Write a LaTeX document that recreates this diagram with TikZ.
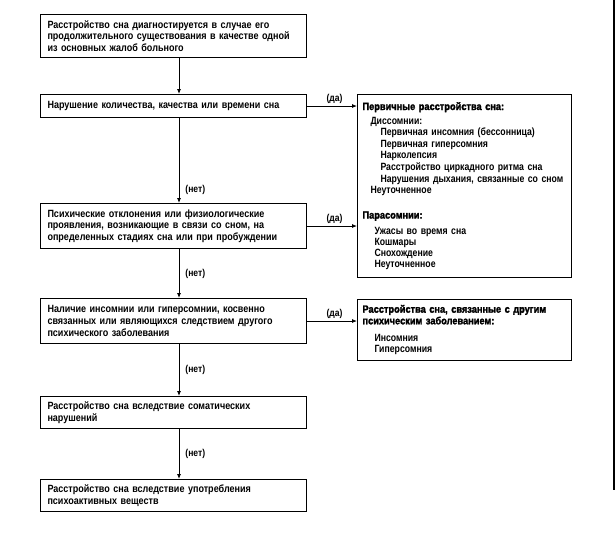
\documentclass[tikz,border=0pt]{standalone}
\usepackage{fontspec}
\setmainfont[FakeStretch=0.86]{Liberation Sans Bold}
\newfontfamily\hfont[FakeStretch=0.88,FakeBold=2]{Liberation Sans Bold}
\newfontfamily\sidefont[FakeStretch=0.83]{Liberation Sans Bold}
\usetikzlibrary{arrows.meta}
\begin{document}
\begin{tikzpicture}[x=1pt,y=-1pt,
  txt/.style={font=\fontsize{10.5}{11.6}\selectfont},
  mainbox/.style={txt,draw,line width=1pt,anchor=north west,inner xsep=7pt,inner ysep=0pt,
     text width=252pt,align=left},
  sidebox/.style={font=\fontsize{10.5}{11.6}\sidefont,draw,line width=1pt,anchor=north west,inner xsep=5pt,inner ysep=0pt,
     text width=204pt,align=left},
  arr/.style={line width=0.8pt,-{Latex[length=5pt,width=4pt]}},
  lbl/.style={font=\fontsize{10}{11}\selectfont,inner sep=1pt}]
\useasboundingbox (0,0) rectangle (616,542);
\coordinate (ax) at (179,0);
\node[mainbox,minimum height=43pt] (b1) at (40,14)
  {Расстройство сна диагностируется в случае его\\продолжительного существования в качестве одной\\из основных жалоб больного};
\node[mainbox,minimum height=23pt] (b2) at (40,94)
  {Нарушение количества, качества или времени сна};
\node[mainbox,minimum height=45pt] (b3) at (40,203)
  {Психические отклонения или физиологические\\проявления, возникающие в связи со сном, на\\определенных стадиях сна или при пробуждении};
\node[mainbox,minimum height=45pt] (b4) at (40,298)
  {Наличие инсомнии или гиперсомнии, косвенно\\связанных или являющихся следствием другого\\психического заболевания};
\node[mainbox,minimum height=32pt] (b5) at (40,396)
  {Расстройство сна вследствие соматических\\нарушений};
\node[mainbox,minimum height=32pt] (b6) at (40,479)
  {Расстройство сна вследствие употребления\\психоактивных веществ};
\node[sidebox,minimum height=183pt] (pA) at (357,94)
  {{\hfont Первичные расстройства сна:}\\[2.4pt]
   \hspace*{8pt}Диссомнии:\\
   \hspace*{18pt}\mbox{Первичная инсомния (бессонница)}\\
   \hspace*{18pt}Первичная гиперсомния\\
   \hspace*{18pt}Нарколепсия\\
   \hspace*{18pt}\mbox{Расстройство циркадного ритма сна}\\
   \hspace*{18pt}\mbox{Нарушения дыхания, связанные со сном}\\
   \hspace*{8pt}Неуточненное\\[13.4pt]
   {\hfont Парасомнии:}\\[4.4pt]
   \hspace*{12pt}Ужасы во время сна\\[-0.6pt]
   \hspace*{12pt}Кошмары\\[-0.6pt]
   \hspace*{12pt}Снохождение\\[-0.6pt]
   \hspace*{12pt}Неуточненное};
\node[sidebox,minimum height=61pt] (pB) at (357,299)
  {{\hfont Расстройства сна, связанные с другим\\психическим заболеванием:}\\[5.4pt]
   \hspace*{12pt}Инсомния\\
   \hspace*{12pt}Гиперсомния\\[2pt]};
\draw[arr] (b1.south -| ax) -- (b2.north -| ax);
\draw[arr] (b2.south -| ax) -- node[lbl,pos=0.85,right=5pt] (n1) {(нет)} (b3.north -| ax);
\draw[arr] (b3.south -| ax) -- node[lbl,right=5pt] (n2) {(нет)} (b4.north -| ax);
\draw[arr] (b4.south -| ax) -- node[lbl,right=5pt] (n3) {(нет)} (b5.north -| ax);
\draw[arr] (b5.south -| ax) -- node[lbl,right=5pt] (n4) {(нет)} (b6.north -| ax);
\draw[arr] (b2.east) -- node[lbl,above=1pt,pos=0.55] (d1) {(да)} (b2.east -| pA.west);
\draw[arr] (b3.east) -- node[lbl,above=1pt,pos=0.55] (d2) {(да)} (b3.east -| pA.west);
\draw[arr] (b4.east) -- node[lbl,above=1pt,pos=0.55] (d3) {(да)} (b4.east -| pB.west);
\coordinate (e1) at (614,0);
\coordinate (e2) at (614,490);
\draw[line width=1.4pt] (e1) -- (e2);
\end{tikzpicture}
\end{document}
